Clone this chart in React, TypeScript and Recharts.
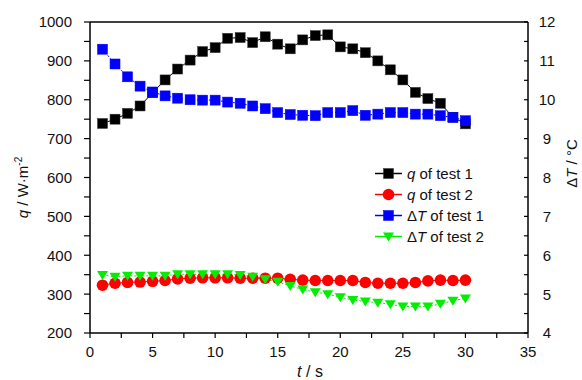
import { ComposedChart, Line, XAxis, YAxis, Legend, Label, ReferenceLine } from 'recharts'

const time = [1, 2, 3, 4, 5, 6, 7, 8, 9, 10, 11, 12, 13, 14, 15, 16, 17, 18, 19, 20, 21, 22, 23, 24, 25, 26, 27, 28, 29, 30]
const qTest1 = [739, 750, 765, 784, 818, 851, 879, 902, 924, 934, 958, 960, 947, 962, 943, 931, 954, 965, 967, 936, 931, 921, 900, 877, 851, 819, 803, 791, 755, 738]
const qTest2 = [323, 328, 330, 331, 333, 335, 339, 341, 342, 342, 342, 341, 341, 341, 341, 338, 336, 335, 335, 335, 335, 330, 328, 328, 328, 330, 334, 336, 335, 336]
const dtTest1 = [11.3, 10.92, 10.59, 10.35, 10.2, 10.1, 10.04, 10.0, 9.99, 9.99, 9.94, 9.91, 9.84, 9.77, 9.67, 9.62, 9.6, 9.59, 9.67, 9.67, 9.72, 9.6, 9.63, 9.67, 9.67, 9.63, 9.63, 9.59, 9.55, 9.46]
const dtTest2 = [5.49, 5.45, 5.47, 5.47, 5.47, 5.47, 5.51, 5.51, 5.51, 5.51, 5.51, 5.49, 5.45, 5.38, 5.32, 5.21, 5.12, 5.05, 5.0, 4.92, 4.85, 4.81, 4.78, 4.74, 4.68, 4.68, 4.68, 4.75, 4.83, 4.89]

const xTicks = [0, 2.5, 5, 7.5, 10, 12.5, 15, 17.5, 20, 22.5, 25, 27.5, 30, 32.5, 35]
const qTicks = [200, 250, 300, 350, 400, 450, 500, 550, 600, 650, 700, 750, 800, 850, 900, 950, 1000]
const dtTicks = [4, 4.5, 5, 5.5, 6, 6.5, 7, 7.5, 8, 8.5, 9, 9.5, 10, 10.5, 11, 11.5, 12]

const FONT = '"Liberation Sans", Arial, sans-serif'
const INK = '#111'

const data = time.map((t, i) => ({
  t,
  q1: qTest1[i],
  q2: qTest2[i],
  dt1: dtTest1[i],
  dt2: dtTest2[i],
}))

type Shape = 'square' | 'circle' | 'triangle'

function marker(shape: Shape, cx: number, cy: number, fill: string, key?: string | number) {
  if (shape === 'square') {
    return <rect key={key} x={cx - 5} y={cy - 5} width={10} height={10} fill={fill} stroke={fill === '#000' ? '#333' : fill} strokeWidth={0.5} />
  }
  if (shape === 'circle') {
    return <circle key={key} cx={cx} cy={cy} r={5.8} fill={fill} />
  }
  return (
    <polygon
      key={key}
      points={`${cx - 5.5},${cy - 4} ${cx + 5.5},${cy - 4} ${cx},${cy + 5}`}
      fill={fill}
    />
  )
}

const series = [
  { key: 'q1', axis: 'q', color: '#000', shape: 'square' as Shape, dash: undefined, name: 'q', label: ' of test 1' },
  { key: 'q2', axis: 'q', color: '#ff0000', shape: 'circle' as Shape, dash: undefined, name: 'q', label: ' of test 2' },
  { key: 'dt1', axis: 'dt', color: '#0000ff', shape: 'square' as Shape, dash: '2 2', name: 'dT', label: ' of test 1' },
  { key: 'dt2', axis: 'dt', color: '#00ee00', shape: 'triangle' as Shape, dash: '2 2', name: 'dT', label: ' of test 2' },
]

const LeftTick = (props: any) => {
  const { x, y, payload } = props
  const major = payload.value % 100 === 0
  return (
    <g>
      <line x1={x} y1={y} x2={x - 6} y2={y} stroke="#000" strokeWidth={1.2} />
      {major && (
        <text x={x - 18} y={y} dy="0.36em" textAnchor="end" fontSize={15} fill={INK} fontFamily={FONT}>
          {payload.value}
        </text>
      )}
    </g>
  )
}

const RightTick = (props: any) => {
  const { x, y, payload } = props
  const major = payload.value % 1 === 0
  return (
    <g>
      <line x1={x} y1={y} x2={x - 4} y2={y} stroke="#000" strokeWidth={1.2} />
      {major && (
        <text x={x + 19} y={y} dy="0.36em" textAnchor="middle" fontSize={15} fill={INK} fontFamily={FONT}>
          {payload.value}
        </text>
      )}
    </g>
  )
}

const BottomTick = (props: any) => {
  const { x, y, payload } = props
  const major = payload.value % 5 === 0
  return (
    <g>
      <line x1={x} y1={y} x2={x} y2={y + 5} stroke="#000" strokeWidth={1.2} />
      {major && (
        <text x={x} y={y + 24} textAnchor="middle" fontSize={15} fill={INK} fontFamily={FONT}>
          {payload.value}
        </text>
      )}
    </g>
  )
}

const QLabel = (props: any) => {
  const { viewBox } = props
  const x = viewBox.x + 28
  const y = viewBox.y + viewBox.height / 2 + 10
  return (
    <text x={x} y={y} transform={`rotate(-90, ${x}, ${y})`} textAnchor="middle" fontSize={15} fill={INK} fontFamily={FONT}>
      <tspan fontStyle="italic">q</tspan>
      <tspan> / W·m</tspan>
      <tspan dy={-6} fontSize={10}>-2</tspan>
    </text>
  )
}

const DtLabel = (props: any) => {
  const { viewBox } = props
  const x = viewBox.x + 49
  const y = viewBox.y + viewBox.height / 2 - 14
  return (
    <text x={x} y={y} transform={`rotate(-90, ${x}, ${y})`} textAnchor="middle" fontSize={15} fill={INK} fontFamily={FONT}>
      <tspan>Δ</tspan>
      <tspan fontStyle="italic">T</tspan>
      <tspan> / °C</tspan>
    </text>
  )
}

const TLabel = (props: any) => {
  const { viewBox } = props
  const x = viewBox.x + viewBox.width / 2 + 1
  const y = viewBox.y + 44
  return (
    <text x={x} y={y} textAnchor="middle" fontSize={16} fill={INK} fontFamily={FONT}>
      <tspan fontStyle="italic">t</tspan>
      <tspan> / s</tspan>
    </text>
  )
}

const LegendBox = () => (
  <div style={{ fontFamily: FONT, fontSize: 15, color: INK }}>
    {series.map((s) => (
      <div key={s.key} style={{ display: 'flex', alignItems: 'center', height: 21, lineHeight: '21px' }}>
        <svg width={35} height={21} style={{ display: 'block' }}>
          <line x1={3} y1={10.5} x2={30} y2={10.5} stroke={s.color} strokeWidth={1.5} />
          {marker(s.shape, 16.5, 10.5, s.color)}
        </svg>
        <span style={{ whiteSpace: 'nowrap' }}>
          {s.name === 'q' ? (
            <i>q</i>
          ) : (
            <>
              Δ<i>T</i>
            </>
          )}
          {s.label}
        </span>
      </div>
    ))}
  </div>
)

export default function App() {
  return (
    <div style={{ position: 'absolute', left: 0, top: 0, width: 582, height: 380, background: '#fff' }}>
      <ComposedChart width={582} height={380} data={data} margin={{ top: 22, right: 0, bottom: 0, left: 0 }}>
        <XAxis
          dataKey="t"
          type="number"
          domain={[0, 35]}
          ticks={xTicks}
          interval={0}
          height={47}
          tickSize={0}
          tickMargin={0}
          tickLine={false}
          tick={<BottomTick />}
          axisLine={{ stroke: '#000', strokeWidth: 1.5 }}
        >
          <Label content={<TLabel />} />
        </XAxis>
        <YAxis
          yAxisId="q"
          orientation="left"
          type="number"
          domain={[200, 1000]}
          ticks={qTicks}
          interval={0}
          width={90}
          tickSize={0}
          tickMargin={0}
          tickLine={false}
          tick={<LeftTick />}
          axisLine={{ stroke: '#000', strokeWidth: 1.5 }}
        >
          <Label content={<QLabel />} />
        </YAxis>
        <YAxis
          yAxisId="dt"
          orientation="right"
          type="number"
          domain={[4, 12]}
          ticks={dtTicks}
          interval={0}
          width={54}
          tickSize={0}
          tickMargin={0}
          tickLine={false}
          tick={<RightTick />}
          axisLine={{ stroke: '#000', strokeWidth: 1.5 }}
        >
          <Label content={<DtLabel />} />
        </YAxis>
        <ReferenceLine yAxisId="q" y={1000} stroke="#000" strokeWidth={1.5} />
        <Legend
          layout="vertical"
          align="center"
          verticalAlign="middle"
          content={<LegendBox />}
          wrapperStyle={{ left: 372, top: 163, width: 170 }}
        />
        {series.map((s) => (
          <Line
            key={s.key}
            yAxisId={s.axis}
            dataKey={s.key}
            type="linear"
            stroke={s.color}
            strokeWidth={1}
            strokeDasharray={s.dash}
            isAnimationActive={false}
            dot={(p: any) => marker(s.shape, p.cx, p.cy, s.color, `${s.key}-${p.index}`)}
            activeDot={false}
          />
        ))}
      </ComposedChart>
    </div>
  )
}
